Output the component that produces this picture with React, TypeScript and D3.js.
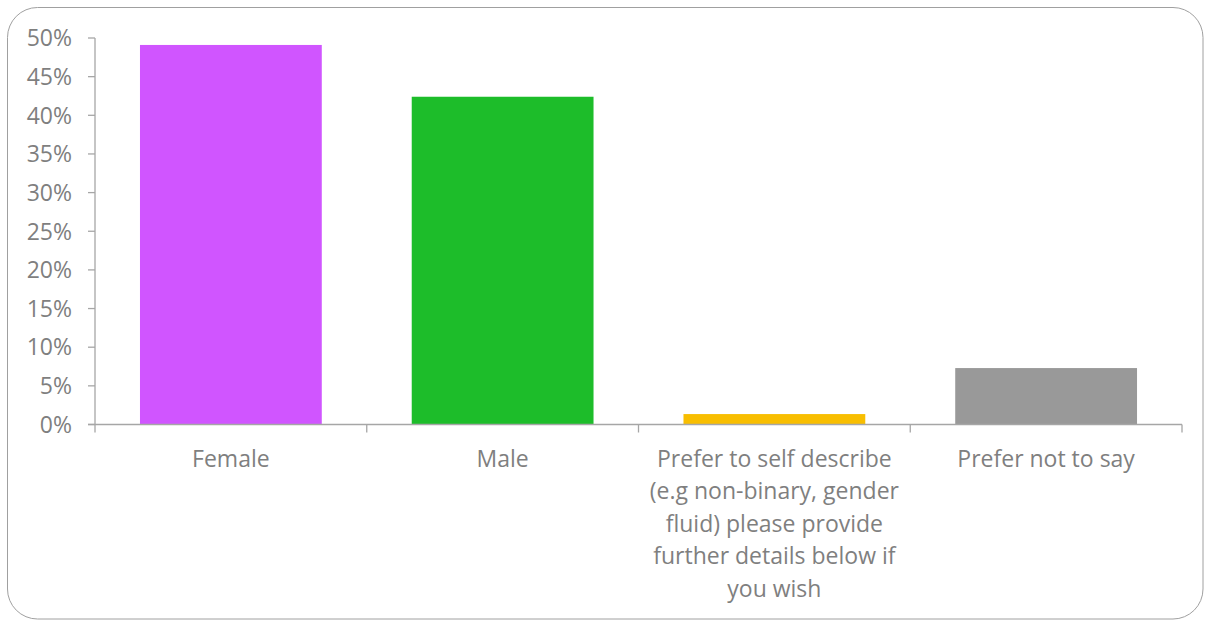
import React from "react";
import * as d3 from "d3";

const categories = ["Female", "Male", "Prefer to self describe", "Prefer not to say"];
const categoryLines: string[][] = [
  ["Female"],
  ["Male"],
  ["Prefer to self describe", "(e.g non-binary, gender", "fluid) please provide", "further details below if", "you wish"],
  ["Prefer not to say"],
];
const values = [0.491, 0.424, 0.0135, 0.073];
const colors = ["#D055FF", "#1DBD2A", "#F8BE00", "#999999"];
const yTicks = [0, 0.05, 0.1, 0.15, 0.2, 0.25, 0.3, 0.35, 0.4, 0.45, 0.5];

const W = 1205;
const H = 621;
const left = 95;
const right = 1182;
const top = 38;
const bottom = 424.5;
const FONT = "'Open Sans', sans-serif";
const TEXT = "#7f7f7f";
const AXIS = "#a6a6a6";

export default function App() {
  const x = d3.scaleBand<string>().domain(categories).range([left, right]).paddingInner(0.331).paddingOuter(0.1655);
  const y = d3.scaleLinear().domain([0, 0.5]).range([bottom, top]);
  const step = x.step();
  const fmt = d3.format(".0%");
  return (
    <svg width={W} height={H} style={{ position: "absolute", left: 0, top: 0, display: "block" }}>
      <rect x={7.5} y={7.5} width={W - 2 - 7.5} height={H - 2 - 7.5} rx={30} ry={30} fill="#fff" stroke="#a0a0a0" strokeWidth={1} />
      {categories.map((c, i) => (
        <rect key={c} x={x(c)} y={y(values[i])} width={x.bandwidth()} height={bottom - y(values[i])} fill={colors[i]} />
      ))}
      <line x1={left} x2={left} y1={top} y2={bottom} stroke={AXIS} strokeWidth={1.3} />
      {yTicks.map((t) => (
        <g key={t}>
          <line x1={left - 7} x2={left} y1={y(t)} y2={y(t)} stroke={AXIS} strokeWidth={1.3} />
          <text x={left - 23} y={y(t)} dy="0.36em" textAnchor="end" fontFamily={FONT} fontSize={23} fill={TEXT}>
            {fmt(t)}
          </text>
        </g>
      ))}
      <line x1={left - 7} x2={right} y1={bottom} y2={bottom} stroke={AXIS} strokeWidth={1.3} />
      {d3.range(categories.length + 1).map((i) => (
        <line key={i} x1={left + i * step} x2={left + i * step} y1={bottom} y2={bottom + 8} stroke={AXIS} strokeWidth={1.3} />
      ))}
      {categories.map((c, i) => (
        <text key={c} textAnchor="middle" fontFamily={FONT} fontSize={23} fill={TEXT}>
          {categoryLines[i].map((ln, j) => (
            <tspan key={j} x={(x(c) as number) + x.bandwidth() / 2} y={467 + j * 32.4}>
              {ln}
            </tspan>
          ))}
        </text>
      ))}
    </svg>
  );
}
